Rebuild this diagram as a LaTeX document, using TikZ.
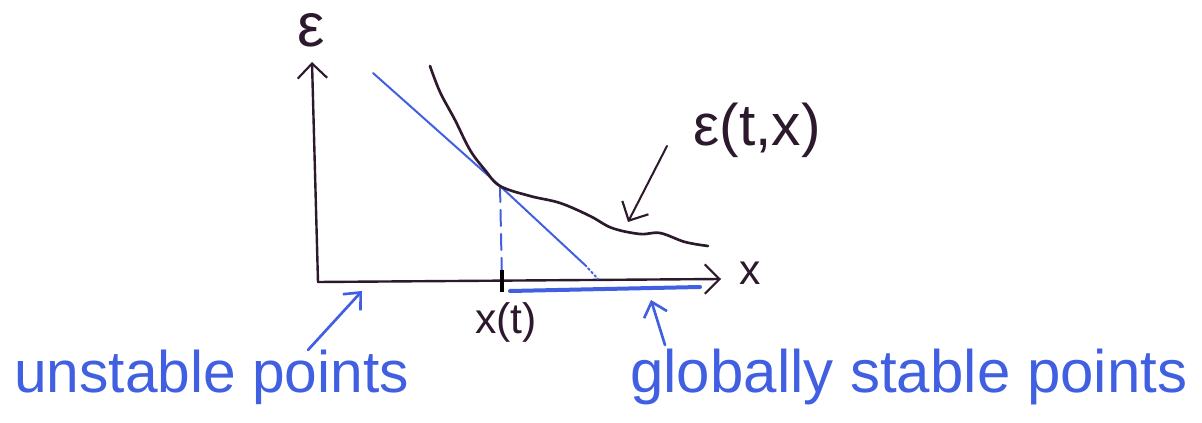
\documentclass[tikz,border=0pt]{standalone}
\usepackage{fontspec}
\setsansfont{Liberation Sans}
\usetikzlibrary{arrows.meta}
\definecolor{hblue}{RGB}{65,95,225}
\definecolor{hink}{RGB}{45,25,45}
\tikzset{
  ink/.style={draw=hink, line width=1.8pt, line cap=round, line join=round},
  blueink/.style={draw=hblue, line width=1.5pt, line cap=round},
  barb/.style={-{Straight Barb[length=11pt,width=22pt,line width=1.6pt]}},
  bluebarb/.style={-{Straight Barb[length=10pt,width=18pt,line width=2pt]}},
  lbl/.style={font=\sffamily, inner sep=0pt},
}
\begin{document}
\begin{tikzpicture}[x=0.75pt,y=-0.75pt]
\useasboundingbox (0,0) rectangle (1202,423);
% axes
\coordinate (O) at (318,282);
\coordinate (ytop) at (312,62);
\coordinate (xend) at (721,279);
\draw[ink,barb] (O) -- (ytop);
\draw[ink,barb] (O) -- (xend);
\node[lbl, text=hink, font=\sffamily\fontsize{46}{50}\selectfont] (eps) at (311,30) {ε};
\node[lbl, text=hink, font=\sffamily\fontsize{32}{36}\selectfont] (xlab) at (750,273) {x};
% tangent point
\coordinate (T) at (500,186);
\coordinate (tick) at (502,282);
% tangent line
\coordinate (L1) at (373,73);
\coordinate (L2) at (585,265);
\coordinate (L3) at (598,279);
\draw[blueink] (L1) -- (T) -- (L2);
\draw[blueink, dotted] (L2) -- (L3);
% dashed vertical
\draw[blueink, dashed, dash pattern=on 12pt off 6pt] (T) -- (tick);
% curve
\draw[ink, line width=2pt] plot[smooth, tension=0.6] coordinates {(430,66) (440,92) (455,120) (470,150) (485,170) (T) (530,196) (560,203) (590,216) (612,228) (640,234) (660,233) (685,242) (708,246)};
% tick
\draw[draw=black, line width=3pt] (502,270) -- (502,292);
\node[lbl, text=hink, font=\sffamily\fontsize{32}{36}\selectfont] (xt) at (506,322) {x(t)};
% stable segment
\coordinate (S1) at (510,291);
\coordinate (S2) at (700,287);
\draw[hblue, line width=3pt, line cap=round] (S1) -- (S2);
% epsilon(t,x) label
\node[lbl, text=hink, font=\sffamily\fontsize{44}{48}\selectfont] (elab) at (757,130) {ε(t,x)};
\coordinate (ea1) at (667,146);
\coordinate (ea2) at (628,222);
\draw[ink, line width=1.5pt, barb] (ea1) -- (ea2);
% labels
\node[lbl, text=hblue, font=\sffamily\fontsize{44}{48}\selectfont, anchor=base west] (unst) at (14,393) {unstable points};
\node[lbl, text=hblue, font=\sffamily\fontsize{45}{49}\selectfont, anchor=base west] (glob) at (630,393) {globally stable points};
\coordinate (ua1) at (308,350);
\coordinate (ua2) at (362,291);
\draw[blueink, line width=2pt, bluebarb] (ua1) -- (ua2);
\coordinate (ga1) at (665,345);
\coordinate (ga2) at (651,300);
\draw[blueink, line width=2pt, bluebarb] (ga1) -- (ga2);
\end{tikzpicture}
\end{document}
